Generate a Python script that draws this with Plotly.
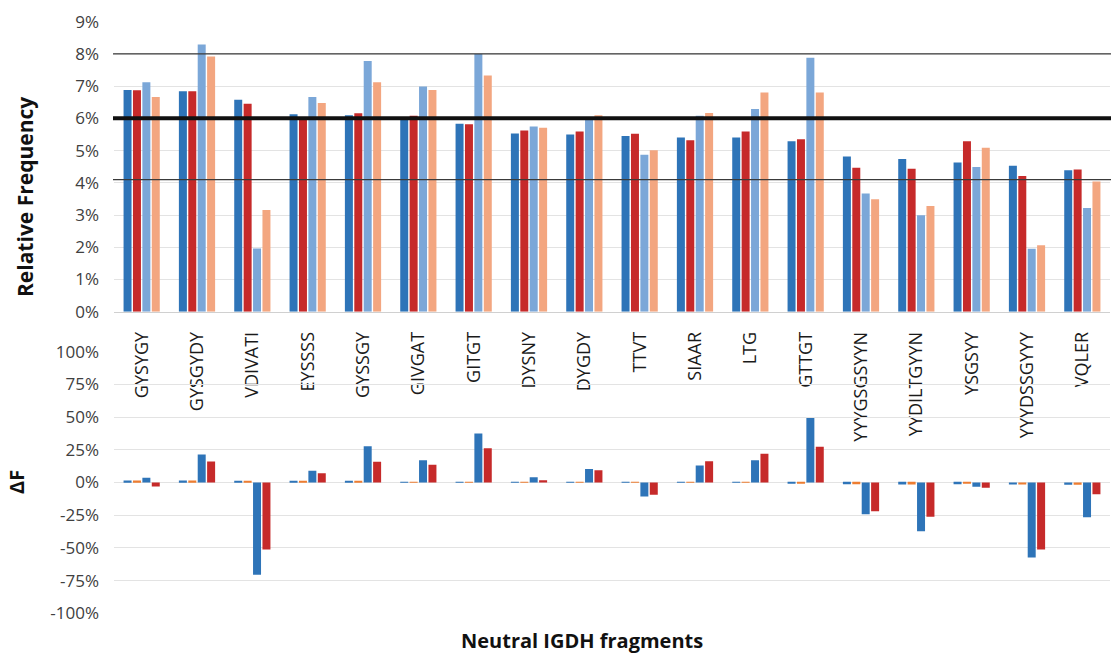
import plotly.graph_objects as go

# IGDH fragment names
fragments = ["GYSYGY", "GYSGYDY", "VDIVATI", "EYSSSS", "GYSSGY", "GIVGAT", "GITGT",
             "DYSNY", "DYGDY", "TTVT", "SIAAR", "LTG", "GTTGT", "YYYGSGSYYN",
             "YYDILTGYYN", "YSGSYY", "YYYDSSGYYY", "VQLER"]

# Relative frequency (%) of each fragment in the four repertoires
freq_a = [6.88, 6.84, 6.58, 6.13, 6.10, 6.00, 5.83, 5.53, 5.50, 5.45, 5.41, 5.41,
          5.29, 4.82, 4.74, 4.63, 4.53, 4.39]
freq_b = [6.87, 6.84, 6.45, 6.03, 6.16, 6.08, 5.82, 5.62, 5.59, 5.52, 5.32, 5.59,
          5.35, 4.47, 4.44, 5.29, 4.21, 4.41]
freq_c = [7.12, 8.29, 1.96, 6.66, 7.78, 6.99, 8.00, 5.75, 6.02, 4.87, 6.08, 6.29,
          7.88, 3.67, 2.99, 4.49, 1.95, 3.22]
freq_d = [6.66, 7.92, 3.16, 6.48, 7.12, 6.88, 7.33, 5.71, 6.10, 5.01, 6.17, 6.80,
          6.80, 3.49, 3.28, 5.09, 2.06, 4.04]

# Change in frequency, ΔF (%)
dF_1 = [1.5, 1.5, 1.2, 0.7, 0.7, 0.4, 0.3, 0.2, 0.2, 0.1, 0.1, 0.3,
        -0.3, -1.4, -1.5, -1.3, -1.6, -1.8]
dF_2 = [1.5, 1.5, 1.2, 0.7, 0.7, 0.4, 0.3, 0.1, 0.1, 0.1, 0.1, 0.1,
        -0.3, -1.4, -1.5, -0.5, -1.6, -1.8]
dF_3 = [3.6, 21.4, -70.6, 8.9, 27.8, 17.1, 37.5, 4.1, 10.4, -10.7, 13.0, 17.1,
        49.4, -24.2, -37.2, -3.3, -57.3, -26.5]
dF_4 = [-3.1, 16.1, -51.2, 7.1, 15.8, 13.5, 26.2, 1.8, 9.4, -9.4, 16.3, 21.9,
        27.3, -21.9, -26.2, -4.1, -51.2, -8.9]

# Reference levels on the frequency panel (%)
ref_levels = [8.0, 6.0, 4.1]
ref_widths = [1.2, 4, 1.2]

# Axis ticks
freq_ticks = list(range(0, 10))
dF_ticks = [-100, -75, -50, -25, 0, 25, 50, 75, 100]

BLUE = "#2E74B8"
RED = "#C62A2A"
LIGHT_BLUE = "#7BA7D8"
SALMON = "#F3A680"
ORANGE = "#ED7D31"

W, H = 1111, 656
FONT = "Open Sans"
TICK_COLOR = "#404040"
GRID = "#E3E3E3"

fig = go.Figure()

for vals, col in [(freq_a, BLUE), (freq_b, RED), (freq_c, LIGHT_BLUE), (freq_d, SALMON)]:
    fig.add_trace(go.Bar(x=fragments, y=vals, marker=dict(color=col, line=dict(width=0)),
                         xaxis="x", yaxis="y", showlegend=False))

for vals, col in [(dF_1, BLUE), (dF_2, ORANGE), (dF_3, BLUE), (dF_4, RED)]:
    fig.add_trace(go.Bar(x=fragments, y=vals, marker=dict(color=col, line=dict(width=0)),
                         xaxis="x2", yaxis="y2", showlegend=False))

x_dom = [114 / W, 1110 / W]

fig.update_layout(
    width=W, height=H,
    margin=dict(l=0, r=0, t=0, b=0, autoexpand=False),
    paper_bgcolor="white", plot_bgcolor="white",
    barmode="group", bargap=0.32, bargroupgap=0.15,
    font=dict(family=FONT, color=TICK_COLOR),
    xaxis=dict(domain=x_dom, anchor="y", tickangle=-90, automargin=False,
               tickfont=dict(size=18, color="#1a1a1a", family=FONT),
               ticklabelstandoff=12, showline=True, linecolor="#D0D0D0",
               showgrid=False, ticks=""),
    yaxis=dict(domain=[1 - 311.7 / H, 1 - 21.7 / H], range=[0, 9], automargin=False,
               tickvals=freq_ticks, ticktext=[f"{v}%" for v in freq_ticks],
               tickfont=dict(size=17), ticklabelstandoff=14,
               showgrid=True, gridcolor=GRID, zeroline=False),
    xaxis2=dict(domain=x_dom, anchor="y2", showticklabels=False, showgrid=False,
                showline=False, ticks="", automargin=False),
    yaxis2=dict(domain=[1 - 613.3 / H, 1 - 351.7 / H], range=[-100, 100], automargin=False,
                tickvals=dF_ticks, ticktext=[f"{v}%" for v in dF_ticks],
                tickfont=dict(size=17), ticklabelstandoff=14,
                showgrid=True, gridcolor=GRID,
                zeroline=True, zerolinecolor=GRID, zerolinewidth=1),
)

for lvl, wd in zip(ref_levels, ref_widths):
    fig.add_shape(type="line", xref="paper", yref="y", x0=113 / W, x1=1.0, y0=lvl, y1=lvl,
                  line=dict(color="#111111" if wd > 2 else "#3a3a3a", width=wd), layer="above")

title_font = dict(color="#111111", family=FONT)
fig.add_annotation(text="<b>Relative Frequency</b>", xref="paper", yref="paper",
                   x=25 / W, y=1 - 197 / H, xanchor="center", yanchor="middle",
                   textangle=-90, showarrow=False, font=dict(size=21, **title_font))
fig.add_annotation(text="<b>ΔF</b>", xref="paper", yref="paper",
                   x=16 / W, y=1 - 482 / H, xanchor="center", yanchor="middle",
                   textangle=-90, showarrow=False, font=dict(size=20, **title_font))
fig.add_annotation(text="<b>Neutral IGDH fragments</b>", xref="paper", yref="paper",
                   x=582 / W, y=1 - 640 / H, xanchor="center", yanchor="middle",
                   showarrow=False, font=dict(size=20, **title_font))

fig.write_html("out.html")
